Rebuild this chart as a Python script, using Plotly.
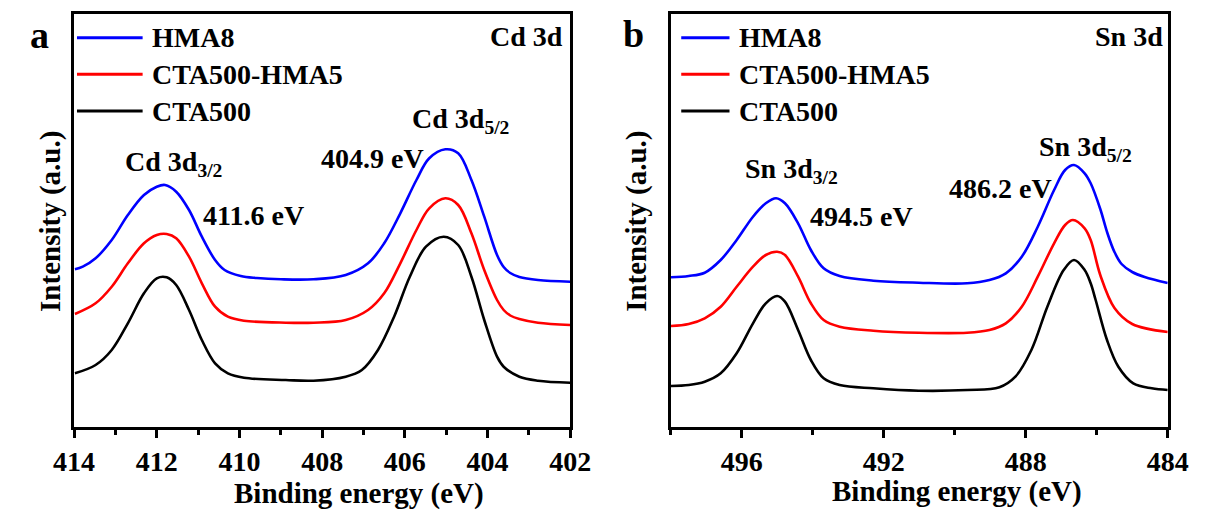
import plotly.graph_objects as go

W, H = 1209, 511

# ---------------- data ----------------
# Panel a: Cd 3d
cd_hma8_x = [413.98, 413.79, 413.48, 413.09, 412.70, 412.31, 412.00, 411.80, 411.53, 411.22, 410.91,
             410.59, 410.36, 409.97, 409.58, 409.00, 408.21, 407.43, 406.89, 406.50, 406.11, 405.72,
             405.41, 405.02, 404.71, 404.39, 404.08, 403.77, 403.61, 403.45, 403.23, 402.78, 402.00]
cd_hma8_y = [157.7, 160.3, 168.7, 187.0, 212.0, 232.0, 240.3, 242.0, 235.3, 217.0, 190.3,
             167.0, 157.0, 151.0, 149.0, 147.7, 147.7, 152.0, 163.7, 183.7, 213.7, 247.0,
             268.7, 277.7, 273.7, 247.0, 210.3, 172.0, 160.0, 154.0, 150.0, 147.0, 145.3]

cd_mix_x = [413.98, 413.48, 413.09, 412.70, 412.31, 412.00, 411.76, 411.53, 411.22, 410.91, 410.59,
            410.28, 409.89, 408.88, 408.21, 407.43, 406.89, 406.50, 406.11, 405.72, 405.41, 405.02,
            404.71, 404.39, 404.08, 403.77, 403.61, 403.45, 403.23, 402.78, 402.00]
cd_mix_y = [113.0, 123.7, 140.3, 163.7, 183.7, 192.0, 193.0, 188.7, 170.3, 143.7, 120.3,
            110.3, 106.3, 104.3, 104.3, 107.0, 117.0, 133.7, 163.7, 197.0, 218.7, 228.7,
            222.0, 193.7, 157.0, 127.0, 117.0, 111.5, 108.0, 104.3, 102.0]

cd_cta_x = [413.98, 413.48, 413.09, 412.70, 412.31, 412.00, 411.76, 411.53, 411.22, 410.91, 410.59,
            410.28, 409.89, 408.88, 408.21, 407.43, 407.04, 406.65, 406.26, 405.88, 405.49, 405.06,
            404.71, 404.39, 404.08, 403.77, 403.61, 403.23, 402.78, 402.00]
cd_cta_y = [53.7, 62.0, 77.0, 103.7, 133.7, 148.7, 149.7, 142.0, 117.0, 87.0, 63.7,
            53.7, 49.3, 47.0, 46.3, 50.3, 57.0, 77.0, 110.3, 150.3, 180.3, 190.3,
            182.0, 150.3, 107.0, 70.3, 60.3, 50.3, 46.3, 44.3]

# Panel b: Sn 3d
sn_hma8_x = [497.99, 497.49, 497.04, 496.59, 496.14, 495.68, 495.32, 495.03, 494.78, 494.41, 494.05,
             493.69, 493.24, 492.29, 491.01, 489.65, 489.02, 488.56, 488.11, 487.66, 487.20, 486.89,
             486.64, 486.34, 486.17, 485.90, 485.70, 485.50, 485.30, 485.00, 484.65, 484.00]
sn_hma8_y = [149.7, 151.0, 154.3, 167.0, 187.0, 210.3, 223.7, 228.7, 223.7, 203.7, 177.0,
             158.7, 151.0, 146.3, 144.3, 143.7, 147.0, 153.7, 170.3, 200.3, 237.0, 257.0,
             262.0, 253.7, 243.7, 218.0, 194.0, 175.0, 163.0, 155.0, 150.0, 144.0]

sn_mix_x = [497.99, 497.49, 497.04, 496.59, 496.14, 495.68, 495.32, 495.00, 494.78, 494.41, 494.05,
            493.69, 493.24, 492.29, 491.01, 489.65, 489.02, 488.56, 488.11, 487.66, 487.20, 486.89,
            486.67, 486.34, 486.17, 485.90, 485.50, 485.00, 484.00]
sn_mix_y = [101.0, 103.0, 108.7, 120.3, 140.3, 160.3, 172.0, 175.3, 172.0, 150.3, 123.7,
            107.0, 100.3, 96.3, 94.3, 94.3, 97.0, 103.7, 120.3, 150.3, 183.7, 202.0,
            207.0, 198.7, 187.0, 152.0, 119.0, 103.0, 95.0]

sn_cta_x = [497.99, 497.49, 497.04, 496.59, 496.14, 495.68, 495.32, 495.00, 494.78, 494.41, 494.05,
            493.69, 493.24, 492.29, 491.01, 489.65, 488.74, 488.29, 487.84, 487.39, 486.93, 486.64,
            486.34, 486.17, 486.03, 485.71, 485.39, 484.97, 484.45, 484.00]
sn_cta_y = [41.0, 42.0, 45.3, 53.7, 73.7, 103.7, 123.7, 131.0, 125.3, 97.0, 67.0,
            48.7, 42.0, 38.7, 36.3, 37.0, 39.7, 50.3, 77.0, 120.3, 157.0, 167.0,
            157.0, 143.7, 127.0, 87.0, 60.3, 43.7, 38.7, 37.0]

series_names = ["HMA8", "CTA500-HMA5", "CTA500"]
series_colors = ["#0000ff", "#ff0000", "#000000"]

left_ticks = [414, 412, 410, 408, 406, 404, 402]
right_ticks = [496, 492, 488, 484]

# ---------------- figure ----------------
FONT = "Liberation Serif"

def px(x):
    return x / W

def py(y):
    return 1 - y / H

fig = go.Figure()

left_sets = [(cd_hma8_x, cd_hma8_y), (cd_mix_x, cd_mix_y), (cd_cta_x, cd_cta_y)]
right_sets = [(sn_hma8_x, sn_hma8_y), (sn_mix_x, sn_mix_y), (sn_cta_x, sn_cta_y)]

for (xs, ys), name, col in zip(left_sets, series_names, series_colors):
    fig.add_trace(go.Scatter(x=xs, y=ys, mode="lines", name=name, showlegend=False,
                             line=dict(color=col, width=2.6, shape="spline", smoothing=1.0),
                             xaxis="x", yaxis="y"))
for (xs, ys), name, col in zip(right_sets, series_names, series_colors):
    fig.add_trace(go.Scatter(x=xs, y=ys, mode="lines", name=name, showlegend=False,
                             line=dict(color=col, width=2.6, shape="spline", smoothing=1.0),
                             xaxis="x2", yaxis="y2"))

ydom = [py(427), py(14)]
axis_common = dict(showline=True, linecolor="black", linewidth=2.6, mirror=True,
                   showgrid=False, zeroline=False)
tickfont = dict(family=FONT, size=28, color="black", weight="bold")

fig.update_layout(
    width=W, height=H,
    margin=dict(l=0, r=0, t=0, b=0),
    paper_bgcolor="white", plot_bgcolor="white",
    font=dict(family=FONT, size=28, color="black"),
    showlegend=False,
    xaxis=dict(domain=[px(55), px(569)], range=[414, 402], tickvals=left_ticks,
               ticks="outside", ticklen=8, tickwidth=2.6, tickcolor="black",
               minor=dict(dtick=1, tick0=402, ticks="outside", ticklen=5, tickwidth=2.6, tickcolor="black"),
               tickfont=tickfont, anchor="y", **axis_common),
    yaxis=dict(domain=ydom, range=[0, 413], showticklabels=False, ticks="", anchor="x", **axis_common),
    xaxis2=dict(domain=[px(673), px(1188)], range=[498, 484], tickvals=right_ticks,
                ticks="outside", ticklen=8, tickwidth=2.6, tickcolor="black",
                minor=dict(dtick=2, tick0=484, ticks="outside", ticklen=5, tickwidth=2.6, tickcolor="black"),
                tickfont=tickfont, anchor="y2", **axis_common),
    yaxis2=dict(domain=ydom, range=[0, 413], showticklabels=False, ticks="", anchor="x2", **axis_common),
)

ann = []
def text(x, y, s, size=28, xanchor="left", yanchor="middle", angle=0):
    ann.append(dict(x=px(x), y=py(y), xref="paper", yref="paper", text=s, showarrow=False,
                    xanchor=xanchor, yanchor=yanchor, textangle=angle,
                    font=dict(family=FONT, size=size, color="black")))

# legends (drawn manually to match the long sample lines)
shapes = []
rows = [37.7, 74.3, 111.0]
for (x0, x1, xt) in [(58, 126, 134), (684, 734, 742)]:
    for r, name, col in zip(rows, series_names, series_colors):
        shapes.append(dict(type="line", xref="paper", yref="paper", x0=px(x0), x1=px(x1),
                           y0=py(r), y1=py(r), line=dict(color=col, width=3)))
        text(xt, r, "<b>%s</b>" % name)

# panel letters
text(19, 35, "<b>a</b>", size=38, xanchor="center")
text(635, 34, "<b>b</b>", size=38, xanchor="center")

# element labels
text(564, 36, "<b>Cd 3d</b>", xanchor="right")
text(1185, 36, "<b>Sn 3d</b>", xanchor="right")

# peak labels
text(106, 163, "<b>Cd 3d<sub>3/2</sub></b>")
text(186, 215, "<b>411.6 eV</b>")
text(309, 158, "<b>404.9 eV</b>")
text(403, 121, "<b>Cd 3d<sub>5/2</sub></b>")
text(748, 170, "<b>Sn 3d<sub>3/2</sub></b>")
text(815, 216, "<b>494.5 eV</b>")
text(959, 188, "<b>486.2 eV</b>")
text(1053, 148, "<b>Sn 3d<sub>5/2</sub></b>")

# axis titles
text(350, 493, "<b>Binding energy (eV)</b>", size=29, xanchor="center")
text(970, 491, "<b>Binding energy (eV)</b>", size=29, xanchor="center")
text(31, 221, "<b>Intensity (a.u.)</b>", size=29, xanchor="center", angle=-90)
text(638, 221, "<b>Intensity (a.u.)</b>", size=29, xanchor="center", angle=-90)

fig.update_layout(annotations=ann, shapes=shapes)

fig.write_html("out.html")
